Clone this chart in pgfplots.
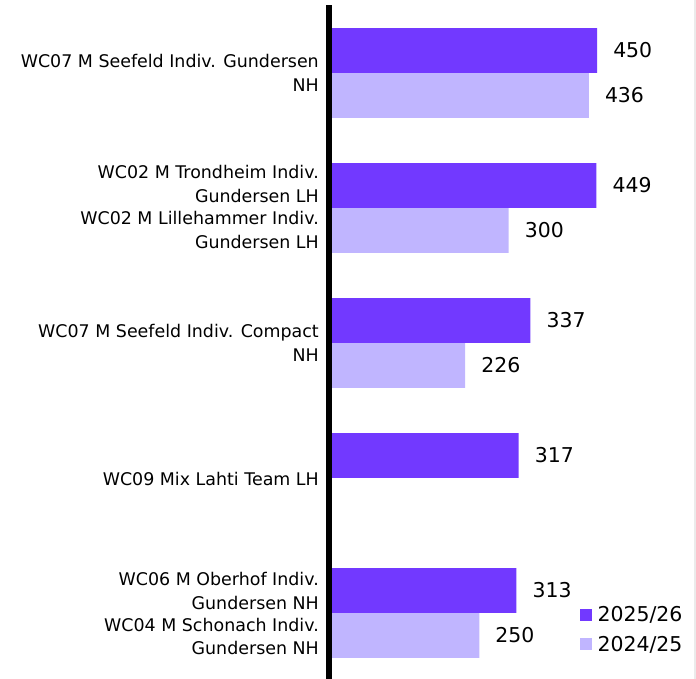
\documentclass[border=0pt]{standalone}
\usepackage{pgfplots}
\pgfplotsset{compat=1.18}
\usepackage{fontspec}
\setmainfont{DejaVu Sans}
\definecolor{cur}{RGB}{114,57,255}
\definecolor{prev}{RGB}{192,181,255}
\begin{document}
\begin{tikzpicture}
\useasboundingbox (0,0) rectangle (696bp,679bp);
\draw[line width=1.5bp, black!8] (695bp,0) -- (695bp,679bp);
\begin{axis}[
  at={(329bp,0bp)}, anchor=south west,
  scale only axis, width=367bp, height=674bp,
  xmin=-5.1, xmax=618, ymin=0, ymax=674,
  axis x line=none, axis y line=left,
  axis line style={-, line width=5bp, black},
  ytick=\empty, xtick=\empty,
  xbar, bar width=44.7, bar shift=0pt,
  clip=false,
  /pgf/number format/assume math mode=true,
  nodes near coords,
  nodes near coords style={anchor=west, inner sep=0pt, xshift=16bp, font=\fontsize{20.5}{23}\selectfont, black},
  legend style={at={(axis cs:420,73)}, anchor=north west, draw=none, fill=none,
    inner sep=0pt, font=\fontsize{20.5}{23}\selectfont, row sep=13bp,
    nodes={inner sep=0pt}},
  legend cell align=left,
  legend image code/.code={\fill[#1] (0bp,-6bp) rectangle (12bp,6bp);},
  /tikz/every even column/.append style={column sep=0bp},
]
\addplot[draw=none, fill=cur] coordinates {(450,628.5) (449,493.5) (337,358.5) (317,223.5) (313,88.5)};
\addlegendentry{\hspace{6bp}2025/26}
\addplot[draw=none, fill=prev] coordinates {(436,583.5) (300,448.5) (226,313.5) (250,43.5)};
\addlegendentry{\hspace{6bp}2024/25}
\begin{scope}[every node/.style={anchor=east, align=right, inner sep=0pt, xshift=-10bp, font=\fontsize{17.5}{23.5}\selectfont}]
\node at (axis cs:-5.1,606) {WC07 M Seefeld Indiv. Gundersen\\NH};
\node at (axis cs:-5.1,495) {WC02 M Trondheim Indiv.\\Gundersen LH};
\node at (axis cs:-5.1,449) {WC02 M Lillehammer Indiv.\\Gundersen LH};
\node at (axis cs:-5.1,336) {WC07 M Seefeld Indiv. Compact\\NH};
\node at (axis cs:-5.1,200) {WC09 Mix Lahti Team LH};
\node at (axis cs:-5.1,88) {WC06 M Oberhof Indiv.\\Gundersen NH};
\node at (axis cs:-5.1,42.5) {WC04 M Schonach Indiv.\\Gundersen NH};
\end{scope}
\end{axis}
\end{tikzpicture}
\end{document}
